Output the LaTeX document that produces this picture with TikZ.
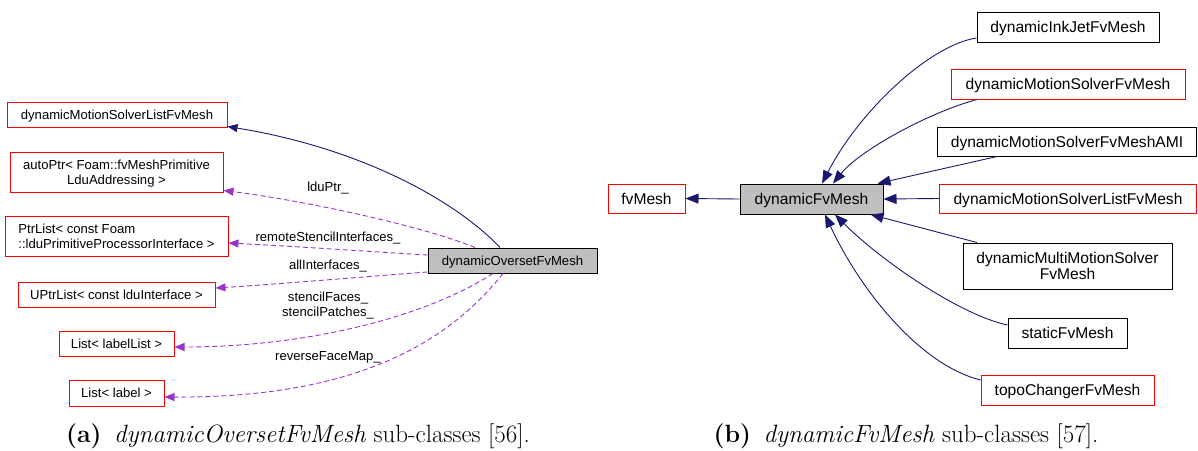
\documentclass[tikz,border=0pt]{standalone}
\usepackage{fontspec}
\newfontfamily\arialf{Liberation Sans}
\usetikzlibrary{arrows.meta}
\definecolor{navyc}{HTML}{191970}
\definecolor{purplec}{HTML}{9A32CD}
\definecolor{nodegray}{HTML}{BFBFBF}
\begin{document}
\begin{tikzpicture}[x=1pt,y=-1pt,
  box/.style={rectangle, inner sep=0pt, line width=1pt, align=center, text depth=0pt},
  lfont/.style={font=\arialf\fontsize{13.1}{15}\selectfont},
  rfont/.style={font=\arialf\fontsize{15.6}{16.5}\selectfont},
  redbox/.style={box, draw=red},
  blackbox/.style={box, draw=black},
  graybox/.style={box, draw=black, fill=nodegray},
  inh/.style={draw=navyc, line width=0.9pt, -{Triangle[length=10pt,width=8pt]}},
  inhr/.style={draw=navyc, line width=0.9pt, -{Triangle[length=13pt,width=10pt]}},
  uses/.style={draw=purplec, line width=0.9pt, dash pattern=on 5pt off 3pt, -{Triangle[length=10pt,width=8pt]}},
  lbl/.style={lfont, inner sep=0pt, align=center},
  captext/.style={font=\fontsize{25}{29}\selectfont, inner sep=0pt}
]
\useasboundingbox (0,0) rectangle (1198,450);

% ---------- left diagram ----------
\node[redbox, lfont, minimum width=220pt, minimum height=25pt] (dmsl) at (117,114.5) {dynamicMotionSolverListFvMesh};
\node[redbox, lfont, minimum width=213pt, minimum height=40pt] (ap) at (116.5,172) {autoPtr< Foam::fvMeshPrimitive\\LduAddressing >};
\node[redbox, lfont, minimum width=223pt, minimum height=40pt, align=left] (pl) at (116.5,236) {PtrList< const Foam\\::lduPrimitiveProcessorInterface >};
\node[redbox, lfont, minimum width=197pt, minimum height=25pt] (upl) at (116.5,294.5) {UPtrList< const lduInterface >};
\node[redbox, lfont, minimum width=115pt, minimum height=25pt] (lll) at (116.5,343.5) {List< labelList >};
\node[redbox, lfont, minimum width=95pt, minimum height=26pt] (ll) at (116.5,393) {List< label >};
\node[graybox, lfont, minimum width=169pt, minimum height=25pt] (ov) at (512.5,260.5) {dynamicOversetFvMesh};

\draw[inh] ([xshift=-12.5pt]ov.north) .. controls (455,200) and (360,148) .. ([yshift=1pt]dmsl.south east);
\draw[uses] ([xshift=-37.5pt]ov.north) .. controls (420,225) and (300,200) .. ([yshift=2pt]ap.south east);
\draw[uses] ([yshift=5.5pt]ov.west) .. controls (360,251) and (290,246) .. ([yshift=-7pt]pl.east);
\draw[uses] ([yshift=-11.5pt]ov.west) .. controls (360,277) and (280,284) .. ([yshift=6.5pt]upl.east);
\draw[uses] ([xshift=-19.5pt]ov.south) .. controls (420,320) and (300,347) .. ([yshift=-3.5pt]lll.east);
\draw[uses] ([xshift=-9.5pt]ov.south) .. controls (450,340) and (360,398) .. ([yshift=-4pt]ll.east);

\node[lbl] (l1) at (328,188) {lduPtr\_};
\node[lbl] (l2) at (328,238) {remoteStencilInterfaces\_};
\node[lbl] (l3) at (328,266) {allInterfaces\_};
\node[lbl] (l4) at (328,305.5) {stencilFaces\_\\stencilPatches\_};
\node[lbl] (l5) at (328,357) {reverseFaceMap\_};

% ---------- right diagram ----------
\node[redbox, rfont, minimum width=77pt, minimum height=29pt] (fv) at (646.5,198.5) {fvMesh};
\node[graybox, rfont, minimum width=143pt, minimum height=30pt] (dfm) at (811.5,199) {dynamicFvMesh};
\node[blackbox, rfont, minimum width=182pt, minimum height=30pt] (ink) at (1068,27) {dynamicInkJetFvMesh};
\node[redbox, rfont, minimum width=234pt, minimum height=30pt] (dms) at (1068,84) {dynamicMotionSolverFvMesh};
\node[blackbox, rfont, minimum width=259pt, minimum height=29pt] (ami) at (1067,141.5) {dynamicMotionSolverFvMeshAMI};
\node[redbox, rfont, minimum width=257pt, minimum height=29pt] (dmsl2) at (1068,198.5) {dynamicMotionSolverListFvMesh};
\node[blackbox, rfont, minimum width=209pt, minimum height=46pt] (mm) at (1067.5,266) {dynamicMultiMotionSolver\\FvMesh};
\node[blackbox, rfont, minimum width=119pt, minimum height=30pt] (sfm) at (1067.5,333) {staticFvMesh};
\node[redbox, rfont, minimum width=173pt, minimum height=30pt] (topo) at (1067.5,390) {topoChangerFvMesh};

\draw[inhr] (dfm.west) -- (fv.east);
\draw[inhr] ([yshift=-11pt]ink.west) .. controls (930,45) and (860,110) .. ([xshift=10.5pt]dfm.north);
\draw[inhr] ([xshift=-91pt]dms.south) .. controls (930,112) and (860,150) .. ([xshift=21.5pt]dfm.north);
\draw[inhr] ([xshift=-70pt]ami.south) -- ([xshift=-6pt]dfm.north east);
\draw[inhr] (dmsl2.west) -- (dfm.east);
\draw[inhr] ([xshift=-90.5pt]mm.north) -- ([xshift=-13pt]dfm.south east);
\draw[inhr] ([yshift=8pt]sfm.west) .. controls (960,315) and (880,260) .. ([xshift=23.5pt]dfm.south);
\draw[inhr] ([yshift=10pt]topo.west) .. controls (920,365) and (860,290) .. ([xshift=13.5pt]dfm.south);

% ---------- captions ----------
\node[captext] (capa) at (298,436) {\textbf{(a)}\enspace\textit{dynamicOversetFvMesh} sub-classes [56].};
\node[captext] (capb) at (906,436) {\textbf{(b)}\enspace\textit{dynamicFvMesh} sub-classes [57].};
\end{tikzpicture}
\end{document}
